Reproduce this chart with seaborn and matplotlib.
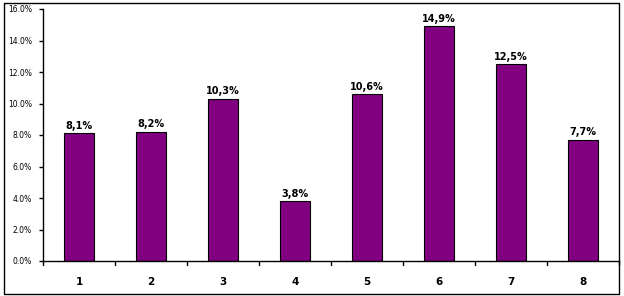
import matplotlib
matplotlib.use("Agg")
import matplotlib.pyplot as plt
from matplotlib.patches import Rectangle
from matplotlib.ticker import FuncFormatter
import seaborn as sns
import pandas as pd

categories = ["1", "2", "3", "4", "5", "6", "7", "8"]
values = [8.1, 8.2, 10.3, 3.8, 10.6, 14.9, 12.5, 7.7]
value_labels = ["8,1%", "8,2%", "10,3%", "3,8%", "10,6%", "14,9%", "12,5%", "7,7%"]
yticks = [0, 2, 4, 6, 8, 10, 12, 14, 16]

sns.set_style("white")
plt.rcParams['font.family'] = ['DejaVu Sans']

df = pd.DataFrame({"cat": categories, "val": values})

W, H = 624, 296
fig = plt.figure(figsize=(W / 100, H / 100), dpi=100)
ax = fig.add_axes([43 / W, 1 - 261 / H, (619 - 43) / W, (261 - 9) / H])

sns.barplot(data=df, x="cat", y="val", color="#800080", saturation=1,
            width=0.41, edgecolor="black", linewidth=0.8, ax=ax)

ax.set_ylim(0, 16)
ax.set_xlim(-0.5, 7.5)
ax.set_yticks(yticks)
ax.yaxis.set_major_formatter(FuncFormatter(lambda v, p: f"{v:.1f}%"))
ax.set_xlabel("")
ax.set_ylabel("")

for spine in ["top", "right"]:
    ax.spines[spine].set_visible(False)
for spine in ["left", "bottom"]:
    ax.spines[spine].set_color("black")
    ax.spines[spine].set_linewidth(1)

ax.tick_params(axis="y", direction="out", length=3, width=1, color="black",
               labelsize=5.5, pad=5, left=True, labelcolor="black")
ax.tick_params(axis="x", bottom=False, labelsize=7.5, pad=8, labelcolor="black")
for lab in ax.get_xticklabels():
    lab.set_fontweight("bold")

# category separator ticks on x axis
for k in range(9):
    ax.plot([k - 0.5, k - 0.5], [0, -0.25], color="black", lw=1, clip_on=False)

for i, (v, t) in enumerate(zip(values, value_labels)):
    ax.text(i, v + 0.15, t, ha="center", va="bottom", fontsize=7,
            fontweight="bold", color="black")

fig.patches.append(Rectangle((4 / W, 1 - 294 / H), (619 - 4) / W, (294 - 3) / H,
                             transform=fig.transFigure, fill=False,
                             edgecolor="black", linewidth=1))

fig.savefig("out.png", dpi=100)
